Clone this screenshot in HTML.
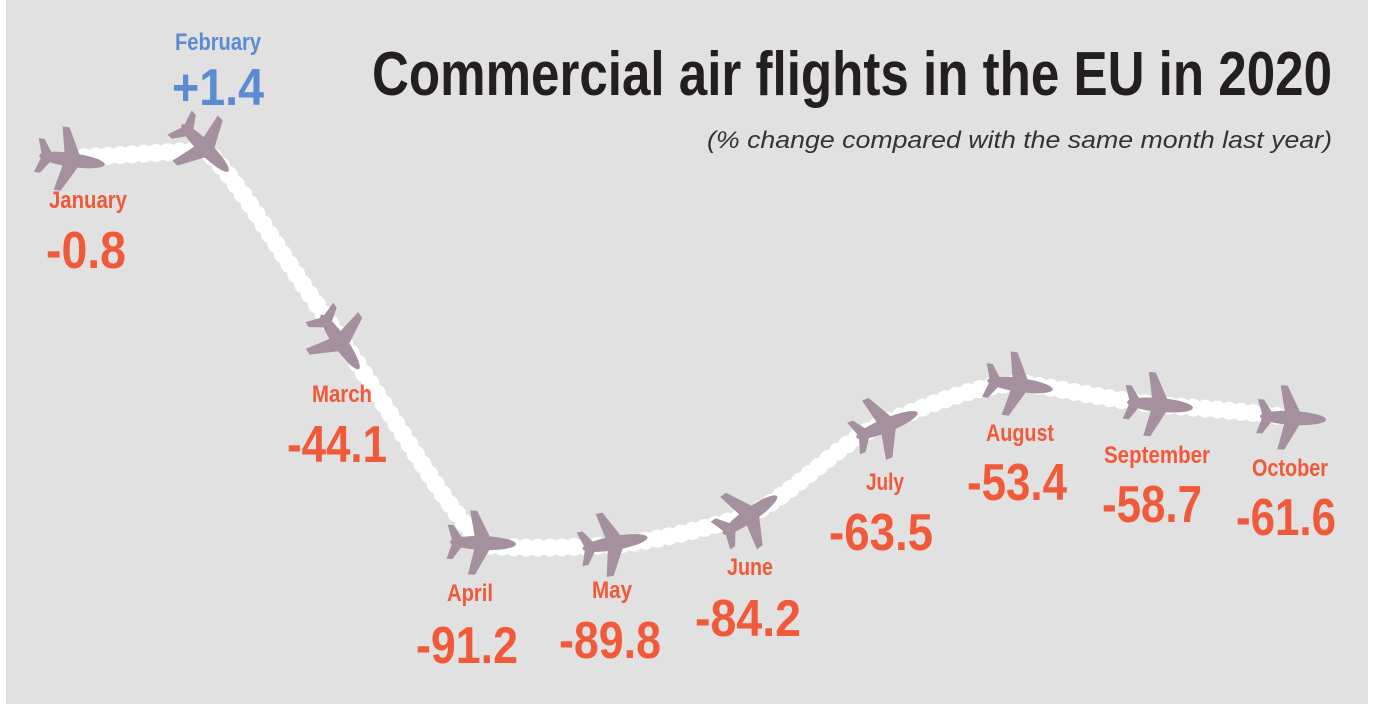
<!DOCTYPE html>
<html><head><style>
html,body{margin:0;padding:0;background:#fff;}
svg{display:block;}
</style></head><body>
<svg width="1374" height="709" viewBox="0 0 1374 709" xmlns="http://www.w3.org/2000/svg">
<defs>
<g id="pl">
<ellipse cx="0" cy="0" rx="33" ry="7" fill="#a5909f"/>
<polygon points="8,-4 -7,-32 -14,-32 -8,-4" fill="#a5909f"/>
<polygon points="8,4 -7,32 -14,32 -8,4" fill="#a5909f"/>
<polygon points="-20,-3 -30,-17 -36,-17 -31,-2" fill="#a5909f"/>
<polygon points="-20,3 -30,17 -36,17 -31,2" fill="#a5909f"/>
</g>
</defs>
<rect x="0" y="0" width="1374" height="709" fill="#fff"/>
<rect x="6" y="0" width="1362" height="704" fill="#e1e1e1"/>
<g fill="none" stroke="#fff" stroke-linejoin="round" stroke-linecap="round">
<path d="M72,158 L205,150 C230,170 260,220 300,280 L345,345 C390,410 440,500 483,545 C530,550 570,547 615,545 C660,540 700,530 750,515 C800,490 840,440 887,422 C940,400 980,385 1020,383 C1070,390 1110,400 1160,405 C1200,408 1250,412 1293,418" stroke-width="14"/>
<path d="M72,158 L205,150 C230,170 260,220 300,280 L345,345 C390,410 440,500 483,545 C530,550 570,547 615,545 C660,540 700,530 750,515 C800,490 840,440 887,422 C940,400 980,385 1020,383 C1070,390 1110,400 1160,405 C1200,408 1250,412 1293,418" stroke-width="18" stroke-dasharray="0 12"/>
</g>
<use href="#pl" transform="translate(72,160) rotate(8)"/>
<use href="#pl" transform="translate(205,148) rotate(45)"/>
<use href="#pl" transform="translate(340,342) rotate(55)"/>
<use href="#pl" transform="translate(483,543) rotate(2)"/>
<use href="#pl" transform="translate(615,543) rotate(-10)"/>
<use href="#pl" transform="translate(750,515) rotate(-35)"/>
<use href="#pl" transform="translate(887,425) rotate(-22)"/>
<use href="#pl" transform="translate(1020,385) rotate(8)"/>
<use href="#pl" transform="translate(1160,405) rotate(5)"/>
<use href="#pl" transform="translate(1293,418) rotate(3)"/>
<g font-family="'Liberation Sans Narrow','Liberation Sans',sans-serif" font-weight="bold">
<text x="372" y="95" font-size="62" fill="#231f20" textLength="960" lengthAdjust="spacingAndGlyphs">Commercial air flights in the EU in 2020</text>
<text x="1332" y="148" font-size="24" font-weight="normal" font-style="italic" fill="#333" text-anchor="end" font-family="'Liberation Sans',sans-serif" textLength="625" lengthAdjust="spacingAndGlyphs">(% change compared with the same month last year)</text>
<g fill="#f05a3a" text-anchor="middle">
<text x="88" y="208" font-size="24" textLength="78" lengthAdjust="spacingAndGlyphs">January</text>
<text x="86" y="268" font-size="52" textLength="80" lengthAdjust="spacingAndGlyphs">-0.8</text>
<text x="342" y="402" font-size="24" textLength="60" lengthAdjust="spacingAndGlyphs">March</text>
<text x="337" y="462" font-size="52" textLength="100" lengthAdjust="spacingAndGlyphs">-44.1</text>
<text x="470" y="601" font-size="24" textLength="46" lengthAdjust="spacingAndGlyphs">April</text>
<text x="467" y="663" font-size="52" textLength="102" lengthAdjust="spacingAndGlyphs">-91.2</text>
<text x="612" y="598" font-size="24" textLength="40" lengthAdjust="spacingAndGlyphs">May</text>
<text x="610" y="658" font-size="52" textLength="102" lengthAdjust="spacingAndGlyphs">-89.8</text>
<text x="750" y="575" font-size="24" textLength="46" lengthAdjust="spacingAndGlyphs">June</text>
<text x="748" y="636" font-size="52" textLength="106" lengthAdjust="spacingAndGlyphs">-84.2</text>
<text x="885" y="490" font-size="24" textLength="38" lengthAdjust="spacingAndGlyphs">July</text>
<text x="881" y="550" font-size="52" textLength="104" lengthAdjust="spacingAndGlyphs">-63.5</text>
<text x="1020" y="441" font-size="24" textLength="68" lengthAdjust="spacingAndGlyphs">August</text>
<text x="1017" y="500" font-size="52" textLength="100" lengthAdjust="spacingAndGlyphs">-53.4</text>
<text x="1157" y="463" font-size="24" textLength="106" lengthAdjust="spacingAndGlyphs">September</text>
<text x="1152" y="522" font-size="52" textLength="100" lengthAdjust="spacingAndGlyphs">-58.7</text>
<text x="1290" y="476" font-size="24" textLength="76" lengthAdjust="spacingAndGlyphs">October</text>
<text x="1286" y="535" font-size="52" textLength="100" lengthAdjust="spacingAndGlyphs">-61.6</text>
</g>
<g fill="#5b8bd0" text-anchor="middle">
<text x="218" y="50" font-size="24" textLength="86" lengthAdjust="spacingAndGlyphs">February</text>
<text x="218" y="105" font-size="52" textLength="92" lengthAdjust="spacingAndGlyphs">+1.4</text>
</g>
</g>
</svg>
</body></html>
